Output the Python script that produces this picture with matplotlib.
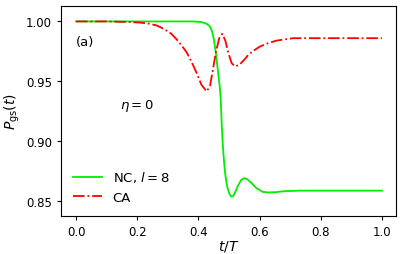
import numpy as np
import matplotlib.pyplot as plt

# values
t_nc = [0.0, 0.1, 0.2, 0.3, 0.38, 0.41, 0.427, 0.437, 0.443, 0.450, 0.457, 0.464,
        0.470, 0.473, 0.476, 0.479, 0.482, 0.485, 0.489, 0.492, 0.496, 0.500, 0.505,
        0.509, 0.514, 0.520, 0.528, 0.540, 0.550, 0.560, 0.575, 0.590, 0.610, 0.628,
        0.650, 0.680, 0.730, 0.8, 0.9, 1.0]
p_nc = [1.0, 1.0, 1.0, 1.0, 1.0, 0.9995, 0.998, 0.996, 0.993, 0.986, 0.974, 0.958,
        0.945, 0.935, 0.915, 0.900, 0.889, 0.879, 0.870, 0.865, 0.860, 0.857, 0.854,
        0.8535, 0.854, 0.857, 0.862, 0.8675, 0.869, 0.868, 0.8645, 0.8605, 0.8575, 0.857,
        0.8572, 0.858, 0.8585, 0.8585, 0.8585, 0.8585]

t_ca = [0.0, 0.1, 0.176, 0.21, 0.242, 0.265, 0.285, 0.31, 0.329, 0.345, 0.362, 0.378,
        0.394, 0.41, 0.427, 0.438, 0.449, 0.457, 0.468, 0.478, 0.488, 0.498, 0.509,
        0.520, 0.535, 0.550, 0.563, 0.580, 0.601, 0.630, 0.656, 0.71, 0.8, 0.9, 1.0]
p_ca = [1.0, 1.0, 0.9995, 0.999, 0.998, 0.9965, 0.994, 0.990, 0.985, 0.980, 0.974, 0.966,
        0.957, 0.947, 0.9415, 0.946, 0.962, 0.974, 0.986, 0.9896, 0.984, 0.9735, 0.965,
        0.9623, 0.964, 0.968, 0.972, 0.9755, 0.979, 0.982, 0.984, 0.986, 0.986, 0.986, 0.986]

fig = plt.figure(figsize=(4.07, 2.55), dpi=100)
ax = fig.add_axes([0.150, 0.150, 0.823, 0.823])

ax.plot(t_nc, p_nc, color='#00ee00', lw=1.3, label=r'NC, $l=8$')
ax.plot(t_ca, p_ca, color='red', lw=1.3, ls='-.', label='CA')

ax.set_xlim(-0.049, 1.046)
ax.set_ylim(0.8375, 1.013)
ax.set_xticks([0.0, 0.2, 0.4, 0.6, 0.8, 1.0])
ax.set_yticks([0.85, 0.90, 0.95, 1.00])
ax.tick_params(labelsize=8.5, length=3)
ax.set_xlabel(r'$t/T$', fontsize=10, labelpad=0)
ax.set_ylabel(r'$P_{\rm gs}(t)$', fontsize=10, labelpad=3)

ax.text(0.0, 0.983, '(a)', fontsize=9.5, va='center')
ax.text(0.144, 0.930, r'$\eta=0$', fontsize=9.5, va='center')

ax.legend(loc='lower left', frameon=False, fontsize=9.5, handlelength=2.2,
          bbox_to_anchor=(0.0, 0.0), borderaxespad=0.5, labelspacing=0.5)

fig.savefig('out.png', dpi=100)
